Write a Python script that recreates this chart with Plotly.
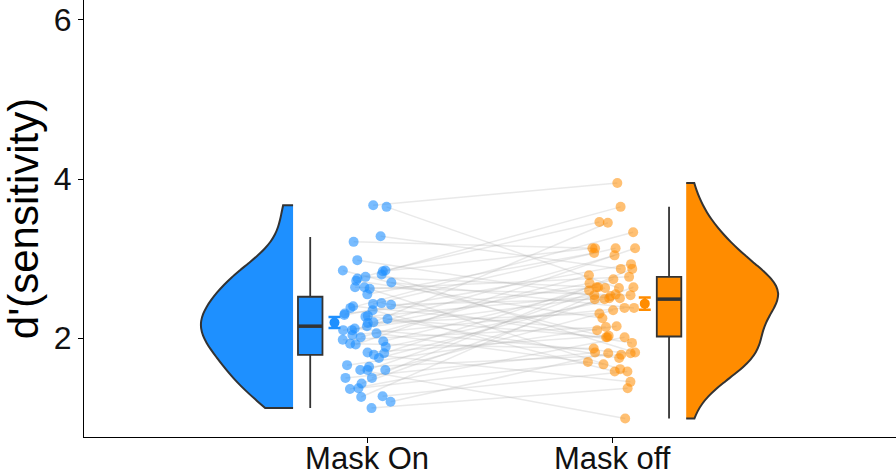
import numpy as np
import plotly.graph_objects as go

categories = ["Mask On", "Mask off"]
cat_pos = [1, 2]

# d' per participant (same index = same participant)
mask_on = [3.67, 3.65, 3.28, 3.21, 2.98, 2.85, 2.85, 2.84, 2.80, 2.77,
           2.75, 2.72, 2.64, 2.64, 2.55, 2.62, 2.70, 2.44, 2.43, 2.42,
           2.40, 2.38, 2.35, 2.31, 2.29, 2.28, 2.27, 2.24, 2.20, 2.19,
           2.15, 2.12, 2.10, 2.10, 2.06, 2.04, 2.01, 1.98, 1.96, 1.93,
           1.92, 1.89, 1.82, 1.81, 1.79, 1.75, 1.66, 1.64, 1.60, 1.60,
           1.60, 1.50, 1.50, 1.43, 1.37, 1.36, 1.27, 1.26, 1.20, 1.12]
mask_off = [3.95, 2.63, 2.87, 3.13, 2.50, 3.46, 2.01, 3.13, 1.82, 2.64,
            3.65, 2.25, 2.54, 1.61, 3.07, 2.77, 2.38, 1.94, 3.13, 2.49,
            2.10, 3.33, 1.58, 2.64, 2.93, 1.75, 2.55, 2.01, 3.45, 2.31,
            2.69, 1.81, 2.53, 3.04, 1.67, 2.38, 2.79, 2.14, 2.60, 1.87,
            3.13, 2.50, 2.03, 2.74, 1.45, 2.49, 2.15, 1.79, 2.63, 2.35,
            0.99, 2.87, 1.82, 2.64, 1.70, 2.01, 1.58, 2.54, 1.81, 1.37]

# box statistics
box_q1 = [1.79, 2.02]
box_median = [2.15, 2.49]
box_q3 = [2.52, 2.77]
box_low = [1.12, 0.99]
box_high = [3.27, 3.65]

# mean +/- SE
mean_vals = [2.195, 2.433]
se_vals = [0.069, 0.078]

y_ticks = [2, 4, 6]
y_title = "d'(sensitivity)"

colors = ["#1E90FF", "#FF8C00"]
point_colors = ["rgba(30,144,255,0.6)", "rgba(255,140,0,0.55)"]
outline = "#333333"
font_family = "Liberation Sans, Arial, sans-serif"

# layout offsets (in category units)
violin_off = 0.302
box_off = 0.232
mean_off = 0.133
box_w = 0.10
jitter_w = 0.10

rng = np.random.default_rng(7)
jit_on = rng.uniform(-jitter_w, jitter_w, len(mask_on))
jit_off = rng.uniform(-jitter_w, jitter_w, len(mask_off))

fig = go.Figure()

# connecting lines
lx, ly = [], []
for i in range(len(mask_on)):
    lx += [cat_pos[0] + jit_on[i], cat_pos[1] + jit_off[i], None]
    ly += [mask_on[i], mask_off[i], None]
fig.add_trace(go.Scatter(x=lx, y=ly, mode="lines",
                         line=dict(color="rgba(175,175,175,0.28)", width=1.5),
                         hoverinfo="skip", showlegend=False))

# points
for k, (vals, jit) in enumerate([(mask_on, jit_on), (mask_off, jit_off)]):
    fig.add_trace(go.Scatter(x=cat_pos[k] + jit, y=vals, mode="markers",
                             marker=dict(size=10, color=point_colors[k]),
                             showlegend=False))

# half violins
sides = ["negative", "positive"]
signs = [-1, 1]
for k, vals in enumerate([mask_on, mask_off]):
    fig.add_trace(go.Violin(
        x0=cat_pos[k] + signs[k] * violin_off, y=vals, side=sides[k],
        width=0.75, spanmode="hard",
        fillcolor=colors[k], opacity=1, line=dict(color=outline, width=2),
        points=False, box_visible=False, meanline_visible=False,
        scalemode="width", showlegend=False, orientation="v"))

# boxes
for k in range(2):
    xpos = cat_pos[k] + signs[k] * box_off
    fig.add_trace(go.Box(
        x=[xpos], q1=[box_q1[k]], median=[box_median[k]], q3=[box_q3[k]],
        lowerfence=[box_low[k]], upperfence=[box_high[k]],
        width=box_w, fillcolor=colors[k], line=dict(color=outline, width=1.8),
        whiskerwidth=0, boxpoints=False, showlegend=False))
    fig.add_trace(go.Scatter(
        x=[xpos - box_w / 2, xpos + box_w / 2], y=[box_median[k]] * 2,
        mode="lines", line=dict(color=outline, width=3.5), showlegend=False,
        hoverinfo="skip"))

# mean +/- se
for k in range(2):
    fig.add_trace(go.Scatter(
        x=[cat_pos[k] + signs[k] * mean_off], y=[mean_vals[k]], mode="markers",
        marker=dict(size=10, color=colors[k]),
        error_y=dict(type="data", array=[se_vals[k]], color=colors[k],
                     thickness=2.5, width=6),
        showlegend=False))

fig.update_layout(
    width=896, height=475,
    margin=dict(l=84, r=0, t=0, b=38),
    paper_bgcolor="white", plot_bgcolor="white",
    font=dict(family=font_family, color="black"),
    boxmode="overlay", violinmode="overlay",
    showlegend=False,
)
fig.update_xaxes(range=[-0.155, 3.158], tickvals=cat_pos, ticktext=categories,
                 automargin=False, ticklabelstandoff=-11,
                 showgrid=False, zeroline=False, showline=True,
                 linecolor="black", linewidth=1.3, ticks="outside",
                 ticklen=5, tickcolor="black", tickwidth=1.2,
                 tickfont=dict(size=31, color="#111"))
fig.update_yaxes(range=[0.757, 6.25], tickvals=y_ticks, automargin=False,
                 showgrid=False, zeroline=False, showline=True,
                 linecolor="black", linewidth=1.3, ticks="outside",
                 ticklen=5, tickcolor="black", tickwidth=1.2,
                 tickfont=dict(size=32, color="#111"),
                 title=dict(text=y_title, font=dict(size=42, color="black"),
                            standoff=8))

fig.write_html("out.html", config={"displayModeBar": False},
               post_script="document.body.style.margin='0';"
                           "document.body.style.overflow='hidden';")
